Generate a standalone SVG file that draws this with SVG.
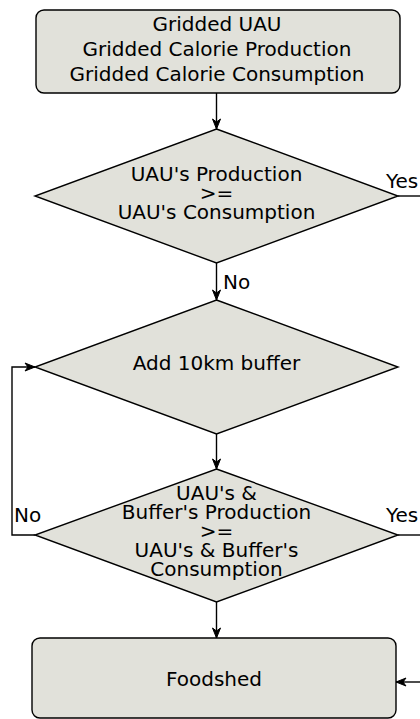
<svg xmlns="http://www.w3.org/2000/svg" width="420" height="719" viewBox="0 0 420 719">
<defs>
<style>
.n{fill:#e1e1da;stroke:#000;stroke-width:1.4}
.t{font-family:"DejaVu Sans",Verdana,sans-serif;font-size:20px;fill:#000;text-anchor:middle}
.l{font-family:"DejaVu Sans",Verdana,sans-serif;font-size:20px;fill:#000}
.c{fill:none;stroke:#000;stroke-width:1.4}
</style>
<marker id="a" markerUnits="userSpaceOnUse" markerWidth="12" markerHeight="10" refX="11" refY="5" orient="auto">
<path d="M1,1 L11,5 L1,9 L4,5 Z" fill="#000" stroke="#000" stroke-width="1"/>
</marker>
</defs>
<g id="connectors">
<line class="c" x1="216.5" y1="93" x2="216.5" y2="129" marker-end="url(#a)"/>
<line class="c" x1="216.5" y1="263" x2="216.5" y2="300" marker-end="url(#a)"/>
<line class="c" x1="216.5" y1="434" x2="216.5" y2="469" marker-end="url(#a)"/>
<line class="c" x1="216.5" y1="602" x2="216.5" y2="638" marker-end="url(#a)"/>
<path class="c" d="M35,535 H12 V367 H35" marker-end="url(#a)"/>
<line class="c" x1="398" y1="196" x2="420" y2="196"/>
<line class="c" x1="398" y1="535" x2="420" y2="535"/>
<line class="c" x1="420" y1="682" x2="396" y2="682" marker-end="url(#a)"/>
<text class="l" x="223" y="289">No</text>
<text class="l" x="386" y="188">Yes</text>
<text class="l" x="14" y="522">No</text>
<text class="l" x="386" y="522">Yes</text>
</g>
<g id="input">
<rect class="n" x="36" y="10" width="364" height="83" rx="8"/>
<text class="t" x="217" y="31">Gridded UAU</text>
<text class="t" x="217" y="56">Gridded Calorie Production</text>
<text class="t" x="217" y="81">Gridded Calorie Consumption</text>
</g>
<g id="decision1">
<polygon class="n" points="216.5,129 398,196 216.5,263 35,196"/>
<text class="t" x="216.5" y="181">UAU's Production</text>
<text class="t" x="216.5" y="200">&gt;=</text>
<text class="t" x="216.5" y="219">UAU's Consumption</text>
</g>
<g id="buffer">
<polygon class="n" points="216.5,300 398,367 216.5,434 35,367"/>
<text class="t" x="216.5" y="370">Add 10km buffer</text>
</g>
<g id="decision2">
<polygon class="n" points="216.5,469 398,535 216.5,602 35,535"/>
<text class="t" x="216.5" y="500">UAU's &amp;</text>
<text class="t" x="216.5" y="519">Buffer's Production</text>
<text class="t" x="216.5" y="538">&gt;=</text>
<text class="t" x="216.5" y="557">UAU's &amp; Buffer's</text>
<text class="t" x="216.5" y="576">Consumption</text>
</g>
<g id="foodshed">
<rect class="n" x="32" y="638" width="364" height="80" rx="8"/>
<text class="t" x="214" y="686">Foodshed</text>
</g>
</svg>
